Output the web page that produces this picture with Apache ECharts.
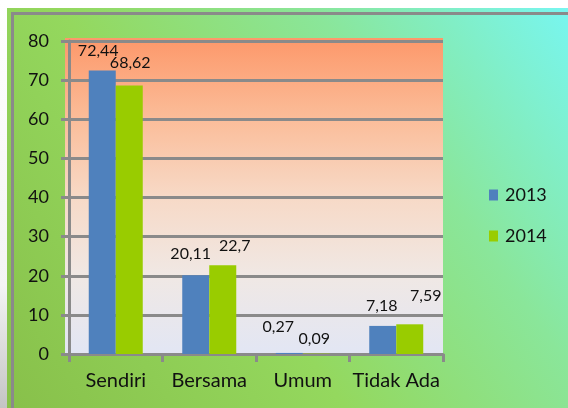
<!DOCTYPE html>
<html>
<head>
<meta charset="utf-8">
<script src="https://cdn.jsdelivr.net/npm/echarts@6/dist/echarts.min.js"></script>
<style>
  html, body { margin: 0; padding: 0; background: #fff; }
  #chart { width: 568px; height: 408px; }
</style>
</head>
<body>
<div id="chart"></div>
<script>
// data
var categories = ['Sendiri', 'Bersama', 'Umum', 'Tidak Ada'];
var seriesNames = ['2013', '2014'];
var values2013 = [72.44, 20.11, 0.27, 7.18];
var values2014 = [68.62, 22.7, 0.09, 7.59];
var yTicks = [0, 10, 20, 30, 40, 50, 60, 70, 80];

// hand placed labels in the original, nudge them a bit
var nudge2013 = [[-4, 0], [-5, -1], [-11, -6], [-1, 0]];
var nudge2014 = [[1, -3], [12, 1], [-2, 5], [16, -8]];

var font = 'Lato';
var gray = '#8a8a8a';

function withLabels(vals, nudges) {
  return vals.map(function (v, i) {
    return { value: v, label: { offset: nudges[i] } };
  });
}

var chart = echarts.init(document.getElementById('chart'));
chart.setOption({
  animation: false,
  backgroundColor: '#fff',
  textStyle: { fontFamily: font },
  graphic: [
    {
      type: 'rect', z: -100,
      shape: { x: 0, y: 0, width: 7, height: 408 },
      style: { fill: new echarts.graphic.LinearGradient(0, 0, 0, 1, [
        { offset: 0, color: '#ffffff' }, { offset: 0.7, color: '#f4f4f4' }, { offset: 1, color: '#c4c4c4' }
      ]) }
    },
    {
      type: 'rect', z: -100,
      shape: { x: 7, y: 8, width: 561, height: 400 },
      style: { fill: new echarts.graphic.LinearGradient(0, 1, 1, 0, [
        { offset: 0, color: '#88c04a' },
        { offset: 0.4, color: '#94d85e' },
        { offset: 0.7, color: '#8ae69a' },
        { offset: 1, color: '#78f6f0' }
      ]) }
    },
    {
      type: 'line', z: -90,
      shape: { x1: 11, y1: 13.5, x2: 568, y2: 13.5 },
      style: { stroke: gray, lineWidth: 3 }
    },
    {
      type: 'line', z: -90,
      shape: { x1: 12.5, y1: 12, x2: 12.5, y2: 408 },
      style: { stroke: gray, lineWidth: 3 }
    },
    {
      type: 'rect', z: -80,
      shape: { x: 65, y: 38, width: 378, height: 316 },
      style: { fill: new echarts.graphic.LinearGradient(0, 0, 0, 1, [
        { offset: 0, color: '#fd986a' },
        { offset: 0.25, color: '#fbbc98' },
        { offset: 0.5, color: '#f7d9c6' },
        { offset: 0.75, color: '#f0e8e4' },
        { offset: 1, color: '#e2e6f4' }
      ]) }
    }
  ],
  legend: {
    orient: 'vertical',
    left: 484,
    top: 181,
    itemWidth: 9,
    itemHeight: 11,
    itemGap: 23,
    icon: 'rect',
    data: seriesNames,
    textStyle: { fontFamily: font, fontSize: 18, color: '#111', lineHeight: 18, padding: [0, 0, 0, 2] }
  },
  grid: { left: 69, right: 125, top: 41, bottom: 54, containLabel: false },
  xAxis: {
    type: 'category',
    data: categories,
    axisLine: { lineStyle: { color: gray, width: 3 } },
    axisTick: { show: true, length: 8, lineStyle: { color: gray, width: 3 } },
    axisLabel: { color: '#111', fontFamily: font, fontSize: 20, margin: 17, interval: 0 },
    splitLine: { show: false }
  },
  yAxis: {
    type: 'value',
    min: yTicks[0],
    max: yTicks[yTicks.length - 1],
    interval: yTicks[1] - yTicks[0],
    axisLine: { show: true, lineStyle: { color: gray, width: 3 } },
    axisTick: { show: true, length: 8, lineStyle: { color: gray, width: 3 } },
    axisLabel: { color: '#111', fontFamily: font, fontSize: 18, margin: 20 },
    splitLine: { lineStyle: { color: gray, width: 3 } }
  },
  series: [
    {
      name: seriesNames[0],
      type: 'bar',
      barWidth: 27,
      barGap: '0%',
      data: withLabels(values2013, nudge2013),
      itemStyle: { color: '#4f81bd' },
      label: {
        show: true, position: 'top', distance: 12,
        fontFamily: font, fontSize: 16, color: '#111',
        formatter: function (p) { return String(p.value).replace('.', ','); }
      }
    },
    {
      name: seriesNames[1],
      type: 'bar',
      barWidth: 27,
      barGap: '0%',
      data: withLabels(values2014, nudge2014),
      itemStyle: { color: '#99cc00' },
      label: {
        show: true, position: 'top', distance: 12,
        fontFamily: font, fontSize: 16, color: '#111',
        formatter: function (p) { return String(p.value).replace('.', ','); }
      }
    }
  ]
});
</script>
</body>
</html>
